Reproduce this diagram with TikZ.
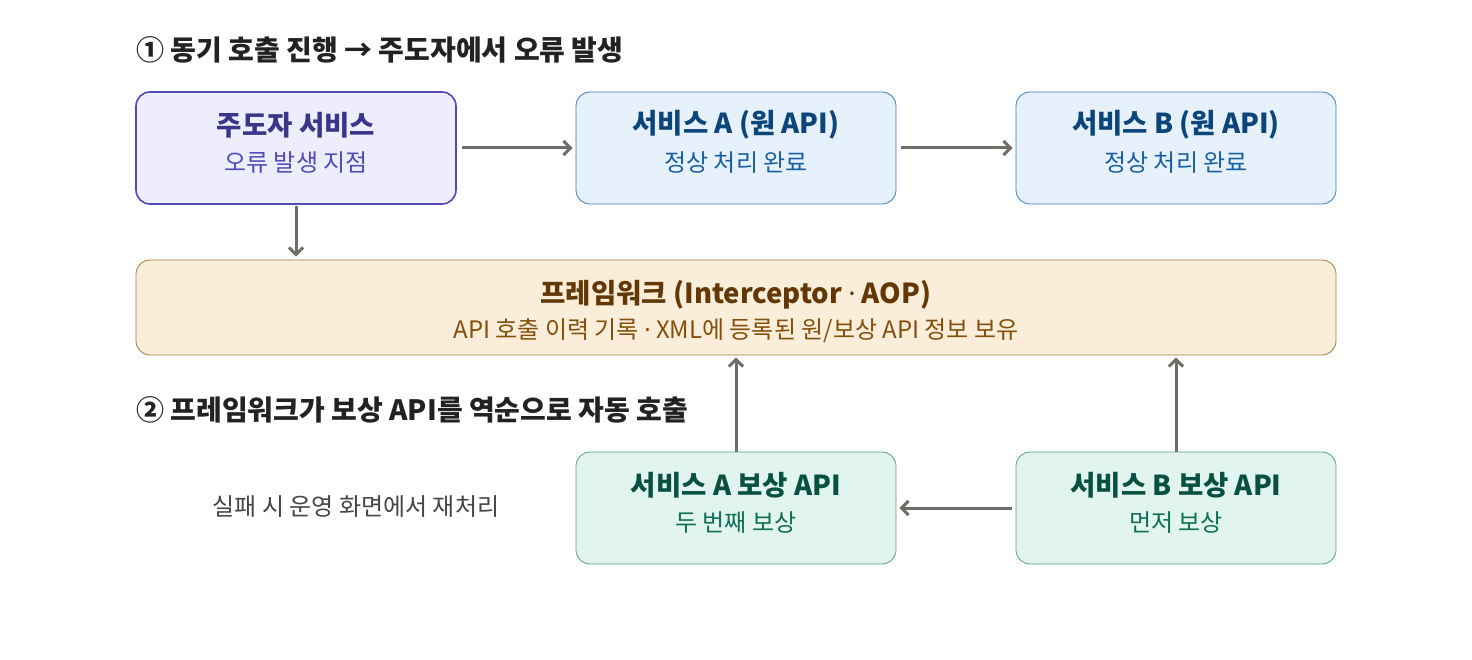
\documentclass[tikz,border=0pt]{standalone}
\usepackage{fontspec}
\setmainfont{Noto Sans CJK KR}
\newfontfamily\dotfont{Noto Sans}
\usetikzlibrary{arrows.meta}
\definecolor{leadfill}{HTML}{EEEDFE}
\definecolor{leaddraw}{HTML}{534AB7}
\definecolor{leadtext}{HTML}{3C3489}
\definecolor{origfill}{HTML}{E6F1FB}
\definecolor{origdraw}{HTML}{3B7DC4}
\definecolor{origtext}{HTML}{0C447C}
\definecolor{origsub}{HTML}{185FA5}
\definecolor{fwfill}{HTML}{FAEEDA}
\definecolor{fwdraw}{HTML}{A87A3E}
\definecolor{fwtext}{HTML}{633806}
\definecolor{fwsub}{HTML}{854F0B}
\definecolor{compfill}{HTML}{E1F5EE}
\definecolor{compdraw}{HTML}{5A9E86}
\definecolor{comptext}{HTML}{085041}
\definecolor{compsub}{HTML}{0F6E56}
\definecolor{arrowgray}{HTML}{6E6D68}
\definecolor{headtext}{HTML}{222222}
\definecolor{notetext}{HTML}{444441}
\newcommand{\mdot}{ {\dotfont·} }

\begin{document}
\begin{tikzpicture}[x=1pt,y=-1pt,
  >={Straight Barb[length=7pt,width=14pt]},
  box/.style={rounded corners=14pt,minimum width=320pt,minimum height=112pt,inner sep=0pt},
  ttl/.style={font=\fontsize{27.5}{32}\selectfont\bfseries,inner sep=0pt},
  sub/.style={font=\fontsize{24}{28}\selectfont,inner sep=0pt},
  head/.style={font=\fontsize{28}{32}\selectfont\bfseries,text=headtext,anchor=west,inner sep=0pt},
  flow/.style={->,draw=arrowgray,line width=3pt}]
\useasboundingbox (0,0) rectangle (1472,660);
% step 1: synchronous calls
\node[head] (head1) at (136,50) {① 동기 호출 진행 → 주도자에서 오류 발생};
\node[box,fill=leadfill,draw=leaddraw,line width=1.6pt] (lead) at (296,148) {};
\node[ttl,text=leadtext] (lead-t) at (296,125) {주도자 서비스};
\node[sub,text=leaddraw] (lead-s) at (296,163) {오류 발생 지점};
\node[box,fill=origfill,draw=origdraw,line width=0.8pt] (origA) at (736,148) {};
\node[ttl,text=origtext] (origA-t) at (736,125) {서비스 A (원 API)};
\node[sub,text=origsub] (origA-s) at (736,163) {정상 처리 완료};
\node[box,fill=origfill,draw=origdraw,line width=0.8pt] (origB) at (1176,148) {};
\node[ttl,text=origtext] (origB-t) at (1176,125) {서비스 B (원 API)};
\node[sub,text=origsub] (origB-s) at (1176,163) {정상 처리 완료};
% framework
\node[box,minimum width=1200pt,minimum height=95pt,fill=fwfill,draw=fwdraw,line width=0.8pt] (fw) at (736,307.5) {};
\node[ttl,text=fwtext] (fw-t) at (736,295) {프레임워크 (Interceptor\mdot AOP)};
\node[sub,text=fwsub] (fw-s) at (736,331) {API 호출 이력 기록\mdot XML에 등록된 원/보상 API 정보 보유};
% step 2: compensation in reverse order
\node[head] (head2) at (136,410) {② 프레임워크가 보상 API를 역순으로 자동 호출};
\node[box,fill=compfill,draw=compdraw,line width=0.8pt] (compA) at (736,508) {};
\node[ttl,text=comptext] (compA-t) at (736,485) {서비스 A 보상 API};
\node[sub,text=compsub] (compA-s) at (736,523) {두 번째 보상};
\node[box,fill=compfill,draw=compdraw,line width=0.8pt] (compB) at (1176,508) {};
\node[ttl,text=comptext] (compB-t) at (1176,485) {서비스 B 보상 API};
\node[sub,text=compsub] (compB-s) at (1176,523) {먼저 보상};
\node[sub,text=notetext] (retry) at (356,507) {실패 시 운영 화면에서 재처리};
% connectors
\draw[flow] ([xshift=5pt]lead.east) -- ([xshift=-3pt]origA.west);
\draw[flow] ([xshift=5pt]origA.east) -- ([xshift=-3pt]origB.west);
\draw[flow] ([yshift=-1pt]lead.south) -- ([yshift=3pt]lead.south |- fw.north);
\draw[flow] (compA.north) -- ([yshift=-2pt]fw.south);
\draw[flow] (compB.north) -- ([yshift=-2pt]compB.north |- fw.south);
\draw[flow] ([xshift=-4pt]compB.west) -- ([xshift=3pt]compA.east);
\end{tikzpicture}
\end{document}
